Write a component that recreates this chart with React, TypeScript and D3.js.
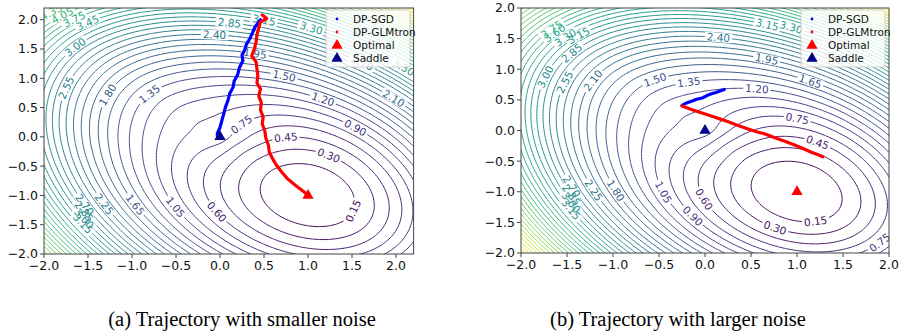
import React, { useEffect, useRef } from 'react';
import * as d3 from 'd3';

// ---------- values ----------
const tickValues = [-2.0, -1.5, -1.0, -0.5, 0.0, 0.5, 1.0, 1.5, 2.0];
const optimal: [number, number] = [1, -1];
const saddle: [number, number] = [0, 0];
const legendNames = ['DP-SGD', 'DP-GLMtron', 'Optimal', 'Saddle'];
const captions = ['(a) Trajectory with smaller noise', '(b) Trajectory with larger noise'];
const levelStep = 0.15;

// panel (a): smaller noise
const sgdSmallNoise: [number, number][] = [
  [0.46, 2.0], [0.4, 1.88], [0.37, 1.78], [0.34, 1.68], [0.3, 1.58], [0.28, 1.48], [0.25, 1.4],
  [0.26, 1.3], [0.22, 1.18], [0.2, 1.06], [0.16, 0.95], [0.15, 0.85], [0.11, 0.74], [0.09, 0.62],
  [0.06, 0.5], [0.04, 0.38], [0.02, 0.27], [0.0, 0.16], [-0.03, 0.06], [-0.03, 0.01],
];
const glmSmallNoise: [number, number][] = [
  [0.48, 2.08], [0.53, 2.02], [0.46, 1.96], [0.44, 1.86], [0.42, 1.74], [0.41, 1.62], [0.39, 1.5],
  [0.36, 1.38], [0.41, 1.28], [0.42, 1.16], [0.43, 1.04], [0.42, 0.92], [0.46, 0.82], [0.44, 0.7],
  [0.47, 0.58], [0.46, 0.46], [0.49, 0.34], [0.48, 0.22], [0.51, 0.1], [0.52, -0.02], [0.55, -0.14],
  [0.56, -0.26], [0.6, -0.38], [0.64, -0.48], [0.7, -0.6], [0.77, -0.72], [0.86, -0.83], [0.93, -0.91],
  [0.98, -0.97],
];
// contour labels: [level, x, y]
const labelsSmallNoise: [number, number, number][] = [
  [4.35, -1.85, 2.05], [4.05, -1.72, 1.98], [3.75, -1.58, 1.9], [3.45, -1.42, 1.82],
  [3.0, -1.53, 1.43], [2.55, -1.72, 0.83], [1.8, -1.28, 0.72], [1.35, -0.91, 0.82],
  [2.4, -0.06, 1.77], [2.85, 0.11, 1.96], [3.15, 0.51, 2.03], [3.3, 1.06, 1.91],
  [1.95, 0.4, 1.43], [1.5, 0.7, 0.94], [1.2, 1.14, 0.58], [0.9, 1.55, 0.17],
  [2.1, 1.95, 0.63], [3.3, 2.08, 1.18], [2.7, 1.56, 1.18],
  [0.75, 0.08, 0.43], [0.45, 0.74, 0.07], [0.3, 1.27, -0.26], [0.15, 1.57, -1.28],
  [0.6, -0.07, -1.3], [1.05, -0.49, -1.19], [1.65, -0.91, -1.13], [2.25, -1.28, -1.13],
  [2.7, -1.62, -1.2], [2.85, -1.68, -1.35], [3.0, -1.72, -1.5], [3.15, -1.78, -1.62],
];

// panel (b): larger noise
const sgdLargeNoise: [number, number][] = [
  [-0.25, 0.41], [-0.2, 0.45], [-0.14, 0.48], [-0.09, 0.51], [-0.03, 0.53], [0.02, 0.57],
  [0.07, 0.6], [0.12, 0.62], [0.17, 0.65], [0.21, 0.67],
];
const glmLargeNoise: [number, number][] = [
  [-0.25, 0.4], [-0.14, 0.34], [-0.04, 0.29], [0.06, 0.24], [0.16, 0.19], [0.26, 0.14], [0.36, 0.08],
  [0.46, 0.03], [0.56, -0.02], [0.66, -0.06], [0.76, -0.12], [0.86, -0.17], [0.96, -0.23],
  [1.06, -0.29], [1.15, -0.35], [1.22, -0.39], [1.28, -0.43],
];
const labelsLargeNoise: [number, number, number][] = [
  [3.75, -1.85, 1.83], [3.6, -1.76, 1.71], [3.3, -1.62, 1.62], [3.15, -1.5, 1.71],
  [3.0, -1.98, 0.95], [2.85, -1.61, 1.39], [2.55, -1.71, 0.85], [2.1, -1.28, 0.85],
  [1.5, -0.49, 0.73], [1.35, -0.11, 0.57], [2.4, 0.14, 1.47], [3.15, 0.67, 1.71], [3.3, 0.9, 1.6],
  [1.95, 0.6, 0.87], [1.65, 1.07, 0.64], [1.2, 0.58, 0.36], [0.75, 0.98, 0.1], [0.45, 1.22, -0.2],
  [0.15, 1.2, -1.47], [0.3, 0.67, -1.76], [0.75, 1.82, -1.76], [0.6, -0.13, -1.18], [0.9, -0.3, -1.52],
  [1.05, -0.46, -1.01], [1.8, -0.9, -0.95], [2.25, -1.33, -1.03],
  [2.7, -1.71, -1.03], [2.85, -1.75, -1.2], [3.0, -1.78, -1.35], [3.15, -1.82, -1.5],
];

// loss surface: ReLU regression, Gaussian inputs, covariance = scale * (I + corr * 11^T)
const surfaceSmallNoise = [0.85, 0.35];
const surfaceLargeNoise = [1.0, 0.35];

function reluLoss(x: number, y: number, scale: number, corr: number) {
  let ws = optimal;
  let s1 = x + y, s2 = ws[0] + ws[1];
  let q = scale * (x * x + y * y + corr * s1 * s1);
  let qs = scale * (ws[0] * ws[0] + ws[1] * ws[1] + corr * s2 * s2);
  let c = scale * (x * ws[0] + y * ws[1] + corr * s1 * s2);
  let nu = Math.sqrt(q), ns = Math.sqrt(qs);
  if (nu < 1e-9) return qs / 2;
  let cos = Math.max(-1, Math.min(1, c / (nu * ns)));
  let th = Math.acos(cos);
  return q / 2 + qs / 2 - (nu * ns / Math.PI) * (Math.sin(th) + (Math.PI - th) * cos);
}

function snapToLevel(f: (x: number, y: number) => number, v: number, x: number, y: number) {
  for (let k = 0; k < 15; k++) {
    let h = 1e-4;
    let gx = (f(x + h, y) - f(x - h, y)) / (2 * h);
    let gy = (f(x, y + h) - f(x, y - h)) / (2 * h);
    let g2 = gx * gx + gy * gy;
    if (g2 < 1e-9) break;
    let step = (f(x, y) - v) / g2;
    let mx = step * gx, my = step * gy;
    let len = Math.sqrt(mx * mx + my * my);
    if (len > 0.15) { mx *= 0.15 / len; my *= 0.15 / len; }
    x -= mx; y -= my;
  }
  return [x, y];
}

const panelA = {
  id: 'a', xDomain: [-2, 2.2], yDomain: [-2, 2.2], xRange: [44, 413.6], yRange: [254, 8],
  surface: surfaceSmallNoise, sgd: sgdSmallNoise, glm: glmSmallNoise, labels: labelsSmallNoise,
  legend: [326, 10], caption: captions[0], captionX: 242,
};
const panelB = {
  id: 'b', xDomain: [-2, 2], yDomain: [-2, 2], xRange: [521, 889], yRange: [253, 8],
  surface: surfaceLargeNoise, sgd: sgdLargeNoise, glm: glmLargeNoise, labels: labelsLargeNoise,
  legend: [801, 10], caption: captions[1], captionX: 678,
};

function drawPanel(svg: any, p: any) {
  let xScale = d3.scaleLinear().domain(p.xDomain).range(p.xRange);
  let yScale = d3.scaleLinear().domain(p.yDomain).range(p.yRange);
  let f = (x: number, y: number) => reluLoss(x, y, p.surface[0], p.surface[1]);
  let x0 = p.xRange[0], x1 = p.xRange[1], yT = p.yRange[1], yB = p.yRange[0];

  // sample the surface on a grid slightly larger than the axes
  let nx = 170, ny = 170;
  let dx = (p.xDomain[1] - p.xDomain[0]) / (nx - 5);
  let dy = (p.yDomain[1] - p.yDomain[0]) / (ny - 5);
  let gx0 = p.xDomain[0] - 2 * dx, gy0 = p.yDomain[0] - 2 * dy;
  let values = new Array(nx * ny);
  let zmax = 0;
  for (let j = 0; j < ny; j++) {
    for (let i = 0; i < nx; i++) {
      let x = gx0 + i * dx, y = gy0 + j * dy;
      let v = f(x, y);
      values[j * nx + i] = v;
      if (x >= p.xDomain[0] && x <= p.xDomain[1] && y >= p.yDomain[0] && y <= p.yDomain[1]) zmax = Math.max(zmax, v);
    }
  }
  let levels = d3.range(1, Math.floor(zmax / levelStep) + 1).map((k) => +(k * levelStep).toFixed(2));
  let vmax = levels[levels.length - 1];
  let color = (v: number) => d3.interpolateViridis(v / vmax);

  let contours = d3.contours().size([nx, ny]).thresholds(levels)(values);
  let proj = d3.geoTransform({
    point: function (px: number, py: number) {
      // @ts-ignore
      this.stream.point(xScale(gx0 + (px - 0.5) * dx), yScale(gy0 + (py - 0.5) * dy));
    },
  });
  let path = d3.geoPath(proj);

  let defs = svg.append('defs');
  defs.append('clipPath').attr('id', 'clip-' + p.id)
    .append('rect').attr('x', x0).attr('y', yT).attr('width', x1 - x0).attr('height', yB - yT);
  let mask = defs.append('mask').attr('id', 'mask-' + p.id)
    .attr('maskUnits', 'userSpaceOnUse').attr('x', 0).attr('y', 0).attr('width', 900).attr('height', 333);
  mask.append('rect').attr('x', 0).attr('y', 0).attr('width', 900).attr('height', 333).attr('fill', 'white');

  let plot = svg.append('g').attr('clip-path', 'url(#clip-' + p.id + ')');
  let lines = plot.append('g').attr('mask', 'url(#mask-' + p.id + ')');
  lines.selectAll('path')
    .data(contours)
    .enter()
    .append('path')
    .attr('d', path)
    .attr('fill', 'none')
    .attr('stroke', (d: any) => color(d.value))
    .attr('stroke-width', 1);

  // inline contour labels (gap cut out of the lines with the mask)
  let kx = (x1 - x0) / (p.xDomain[1] - p.xDomain[0]);
  let ky = (yB - yT) / (p.yDomain[1] - p.yDomain[0]);
  let fs = 10.5;
  p.labels.forEach((lab: [number, number, number]) => {
    let v = lab[0];
    let pt = snapToLevel(f, v, lab[1], lab[2]);
    let h = 1e-4;
    let gx = (f(pt[0] + h, pt[1]) - f(pt[0] - h, pt[1])) / (2 * h);
    let gy = (f(pt[0], pt[1] + h) - f(pt[0], pt[1] - h)) / (2 * h);
    let ang = (Math.atan2(-gx / kx, -gy / ky) * 180) / Math.PI;
    if (ang > 90) ang -= 180;
    if (ang < -90) ang += 180;
    let txt = v.toFixed(2);
    let w = (3 * 0.636 + 0.318) * fs + 4;
    let px = xScale(pt[0]), py = yScale(pt[1]);
    mask.append('rect')
      .attr('x', -w / 2).attr('y', -fs * 0.45).attr('width', w).attr('height', fs * 0.9)
      .attr('fill', 'black')
      .attr('transform', 'translate(' + px + ',' + py + ') rotate(' + ang + ')');
    plot.append('text')
      .attr('transform', 'translate(' + px + ',' + py + ') rotate(' + ang + ')')
      .attr('text-anchor', 'middle')
      .attr('dy', '0.36em')
      .attr('font-family', 'DejaVu Sans, sans-serif')
      .attr('font-size', fs)
      .attr('fill', color(v))
      .text(txt);
  });

  // trajectories
  let line = d3.line<[number, number]>().x((d) => xScale(d[0])).y((d) => yScale(d[1]));
  plot.append('path').datum(p.sgd).attr('d', line)
    .attr('fill', 'none').attr('stroke', '#0000ff').attr('stroke-width', 3.2)
    .attr('stroke-linejoin', 'round').attr('stroke-linecap', 'round');
  plot.append('path').datum(p.glm).attr('d', line)
    .attr('fill', 'none').attr('stroke', '#ff0000').attr('stroke-width', 3.2)
    .attr('stroke-linejoin', 'round').attr('stroke-linecap', 'round');

  let tri = d3.symbol().type(d3.symbolTriangle).size(55);
  plot.append('path').attr('d', tri())
    .attr('transform', 'translate(' + xScale(optimal[0]) + ',' + yScale(optimal[1]) + ')')
    .attr('fill', '#ff0000');
  plot.append('path').attr('d', tri())
    .attr('transform', 'translate(' + xScale(saddle[0]) + ',' + yScale(saddle[1]) + ')')
    .attr('fill', '#00008b');

  // frame and ticks
  svg.append('rect').attr('x', x0).attr('y', yT).attr('width', x1 - x0).attr('height', yB - yT)
    .attr('fill', 'none').attr('stroke', '#444').attr('stroke-width', 1);
  let fmt = (t: number) => d3.format('.1f')(t).replace('-', '\u2212');
  let axis = svg.append('g').attr('font-family', 'DejaVu Sans, sans-serif').attr('font-size', 12.5).attr('fill', '#111');
  tickValues.forEach((t) => {
    let tx = xScale(t);
    axis.append('line').attr('x1', tx).attr('x2', tx).attr('y1', yB).attr('y2', yB + 4).attr('stroke', '#444');
    axis.append('text').attr('x', tx).attr('y', yB + 16).attr('text-anchor', 'middle').text(fmt(t));
    let ty = yScale(t);
    axis.append('line').attr('x1', x0 - 4).attr('x2', x0).attr('y1', ty).attr('y2', ty).attr('stroke', '#444');
    axis.append('text').attr('x', x0 - 6).attr('y', ty).attr('dy', '0.35em').attr('text-anchor', 'end').text(fmt(t));
  });

  // legend
  let lx = p.legend[0], ly = p.legend[1];
  let lg = svg.append('g');
  lg.append('rect').attr('x', lx).attr('y', ly).attr('width', 84).attr('height', 57).attr('rx', 2)
    .attr('fill', 'white').attr('fill-opacity', 0.8).attr('stroke', '#d0d0d0');
  let legendColors = ['#0000ff', '#ff0000', '#ff0000', '#00008b'];
  legendNames.forEach((name, i) => {
    let cy = ly + 9 + i * 13;
    if (i < 2) {
      lg.append('circle').attr('cx', lx + 11).attr('cy', cy).attr('r', 1.4).attr('fill', legendColors[i]);
    } else {
      lg.append('path').attr('d', tri()).attr('transform', 'translate(' + (lx + 11) + ',' + (cy + 0.5) + ')')
        .attr('fill', legendColors[i]);
    }
    lg.append('text').attr('x', lx + 27).attr('y', cy).attr('dy', '0.35em')
      .attr('font-family', 'DejaVu Sans, sans-serif').attr('font-size', 10.5).attr('fill', '#111')
      .text(name);
  });

  // caption under the panel
  svg.append('text').attr('x', p.captionX).attr('y', 326).attr('text-anchor', 'middle')
    .attr('font-family', 'Liberation Serif, Times New Roman, serif').attr('font-size', 20.5).attr('fill', '#000')
    .text(p.caption);
}

export default function App() {
  const ref = useRef<SVGSVGElement>(null);
  useEffect(() => {
    let svg = d3.select(ref.current);
    svg.selectAll('*').remove();
    drawPanel(svg, panelA);
    drawPanel(svg, panelB);
  }, []);
  return (
    <svg
      ref={ref}
      width={900}
      height={333}
      style={{ position: 'absolute', left: 0, top: 0, background: '#fff', display: 'block' }}
    />
  );
}
